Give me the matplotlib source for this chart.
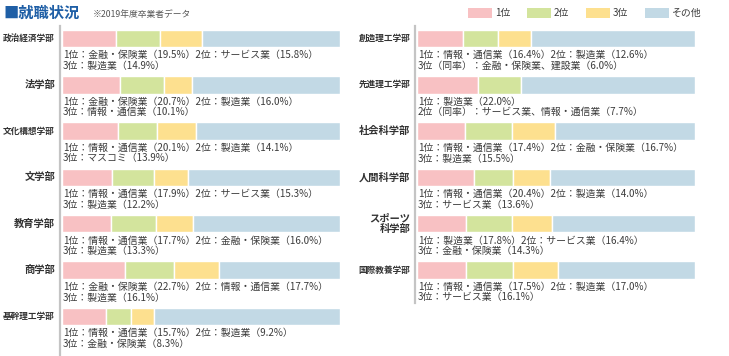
import matplotlib
matplotlib.use("Agg")
import matplotlib.pyplot as plt
from matplotlib.patches import Rectangle
from matplotlib.lines import Line2D

plt.rcParams['font.family'] = ['Noto Sans CJK JP', 'DejaVu Sans']

# ---------------- data ----------------
rank_labels = ['1位', '2位', '3位', 'その他']
colors = ['#f8c1c3', '#d3e49d', '#fde08f', '#c2d9e5']

left_faculties = ['政治経済学部', '法学部', '文化構想学部', '文学部', '教育学部', '商学部', '基幹理工学部']
left_first = [19.5, 20.7, 20.1, 17.9, 17.7, 22.7, 15.7]
left_second = [15.8, 16.0, 14.1, 15.3, 16.0, 17.7, 9.2]
left_third = [14.9, 10.1, 13.9, 12.2, 13.3, 16.1, 8.3]
left_first_ind = [['金融・保険業'], ['金融・保険業'], ['情報・通信業'], ['情報・通信業'],
                  ['情報・通信業'], ['金融・保険業'], ['情報・通信業']]
left_second_ind = [['サービス業'], ['製造業'], ['製造業'], ['サービス業'],
                   ['金融・保険業'], ['情報・通信業'], ['製造業']]
left_third_ind = [['製造業'], ['情報・通信業'], ['マスコミ'], ['製造業'],
                  ['製造業'], ['製造業'], ['金融・保険業']]

right_faculties = ['創造理工学部', '先進理工学部', '社会科学部', '人間科学部', 'スポーツ\n科学部', '国際教養学部']
right_first = [16.4, 22.0, 17.4, 20.4, 17.8, 17.5]
right_second = [12.6, 7.7, 16.7, 14.0, 16.4, 17.0]
right_third = [6.0, 0.0, 15.5, 13.6, 14.3, 16.1]
right_first_ind = [['情報・通信業'], ['製造業'], ['情報・通信業'], ['情報・通信業'], ['製造業'], ['情報・通信業']]
right_second_ind = [['製造業'], ['サービス業', '情報・通信業'], ['金融・保険業'], ['製造業'],
                    ['サービス業'], ['製造業']]
right_third_ind = [['金融・保険業', '建設業'], [], ['製造業'], ['サービス業'], ['金融・保険業'], ['サービス業']]

title = '■就職状況'
subtitle = '※2019年度卒業者データ'

# ---------------- figure ----------------
W, H = 729, 356
fig = plt.figure(figsize=(W / 100, H / 100), dpi=100)
text_color = '#3c3c3c'

ROW0, STEP = 38.5, 46.3   # pixel centre of first row and row pitch
BAR_H = 17.5 / STEP


def rank_text(rank, names, value):
    tie = '（同率）' if len(names) > 1 else ''
    return f'{rank}位{tie}：' + '、'.join(names) + f'（{value:.1f}%）'


def draw_column(x0_px, width_px, faculties, first, second, third, f_ind, s_ind, t_ind, label_right_px):
    ax = fig.add_axes([x0_px / W, 0, width_px / W, 1])
    ax.set_xlim(0, 100)
    ax.set_ylim((H - ROW0) / STEP, -ROW0 / STEP)
    ax.axis('off')
    n = len(faculties)
    for i in range(n):
        v1 = first[i] * len(f_ind[i])
        v2 = second[i] * len(s_ind[i])
        v3 = third[i] * len(t_ind[i])
        vals = [v1, v2, v3, 100 - v1 - v2 - v3]
        left = 0
        for v, c in zip(vals, colors):
            if v > 0:
                ax.barh(i, v, left=left, height=BAR_H, color=c, edgecolor='white', linewidth=1.0)
            left += v
        first_line = rank_text(1, f_ind[i], first[i])
        p2 = rank_text(2, s_ind[i], second[i])
        if len(s_ind[i]) > 1:
            lines = [first_line, p2]
        else:
            lines = [first_line + p2]
            if t_ind[i]:
                lines.append(rank_text(3, t_ind[i], third[i]))
        for k, ln in enumerate(lines):
            ax.text(0.3, i + (16.8 + 10.6 * k) / STEP, ln, fontsize=7.1, color=text_color,
                    ha='left', va='center')
        # faculty label
        name = faculties[i]
        longest = max(len(s) for s in name.split('\n'))
        fs = min(7.4, 52 / longest / 1.389)
        ax.text(-(x0_px - label_right_px) / width_px * 100, i, name, fontsize=fs,
                fontweight='bold', color='#333333', ha='right', va='center',
                linespacing=1.05, clip_on=False)
    return ax


draw_column(62, 278, left_faculties, left_first, left_second, left_third,
            left_first_ind, left_second_ind, left_third_ind, 55)
draw_column(417, 278, right_faculties, right_first, right_second, right_third,
            right_first_ind, right_second_ind, right_third_ind, 410.5)

# vertical guide lines
for x, y1 in [(60, 0), (415, 53)]:
    fig.add_artist(Line2D([x / W, x / W], [y1 / H, 1 - 26 / H], color='#c4c4c4', linewidth=1.6))

# title
fig.text(3 / W, 1 - 13 / H, title, fontsize=11, color='#1f5fa6', fontweight='bold',
         ha='left', va='center')
fig.text(93 / W, 1 - 15 / H, subtitle, fontsize=6.3, color='#555555', ha='left', va='center')

# legend
for k, (lab, c) in enumerate(zip(rank_labels, colors)):
    x = 468 + 59 * k
    fig.add_artist(Rectangle((x / W, 1 - 17.5 / H), 24 / W, 9.5 / H, facecolor=c,
                             edgecolor='none', transform=fig.transFigure))
    fig.text((x + 27) / W, 1 - 13 / H, lab, fontsize=7.1, color=text_color,
             ha='left', va='center')

fig.savefig('out.png', dpi=100)
